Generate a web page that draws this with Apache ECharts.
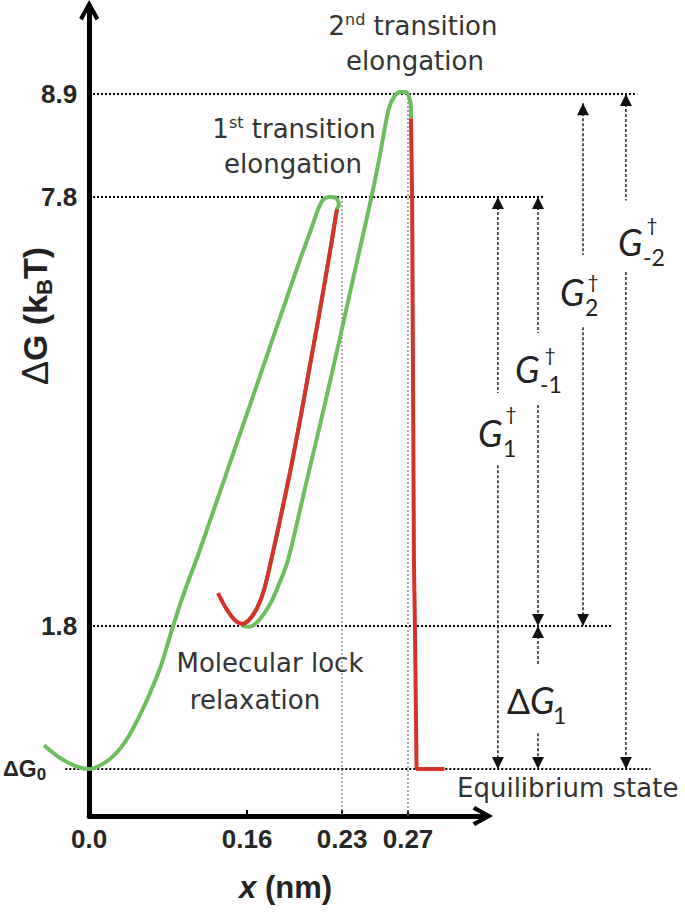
<!DOCTYPE html>
<html>
<head>
<meta charset="utf-8">
<title>Energy landscape</title>
<script src="https://cdn.jsdelivr.net/npm/echarts@6/dist/echarts.min.js"></script>
<style>
  html, body { margin: 0; padding: 0; background: #fff; }
  #chart { width: 685px; height: 913px; }
</style>
</head>
<body>
<div id="chart"></div>
<script>
// axis ticks
const xTickValues = [0, 0.16, 0.23, 0.27];
const xTickLabels = ['0.0', '0.16', '0.23', '0.27'];
const yTickValues = [0, 1.8, 7.8, 8.9];
const yTickLabels = ['ΔG0', '1.8', '7.8', '8.9'];

// green profile (x in nm, G in kBT)
const greenX = [-0.0456, -0.0294, -0.0142, 0, 0.0213, 0.0365, 0.0516, 0.0618, 0.0729, 0.0851, 0.0972,
  0.1104, 0.1377, 0.1622, 0.1806, 0.1990, 0.2078, 0.2122, 0.2160, 0.2211, 0.2255, 0.2277,
  0.2263, 0.2226, 0.2182, 0.2131, 0.2064, 0.1991, 0.1917, 0.1843, 0.1784, 0.1725, 0.1674, 0.1622,
  0.1560, 0.1615, 0.1666, 0.1725, 0.1784, 0.1843, 0.1902, 0.2035, 0.2167, 0.2293, 0.2379, 0.2445,
  0.2494, 0.2530, 0.2561, 0.2585, 0.2615, 0.2652, 0.2682, 0.2706, 0.2718, 0.2718];
const greenY = [0.30, 0.14, 0.04, 0, 0.126, 0.34, 0.68, 0.957, 1.30, 1.80, 2.30,
  2.79, 3.88, 4.89, 5.91, 6.92, 7.38, 7.62, 7.76, 7.80, 7.79, 7.69,
  7.63, 7.20, 6.71, 6.15, 5.45, 4.68, 3.95, 3.28, 2.77, 2.30, 2.05, 1.90,
  1.81, 1.79, 1.84, 1.97, 2.16, 2.42, 2.72, 3.79, 4.85, 5.90, 6.78, 7.45,
  7.93, 8.25, 8.55, 8.75, 8.87, 8.92, 8.92, 8.87, 8.75, 8.64];

// red profile, first well
const redX = [0.1306, 0.1387, 0.1478, 0.1559, 0.1622, 0.1674, 0.1725, 0.1784, 0.1843, 0.1917,
  0.1991, 0.2064, 0.2131, 0.2182, 0.2226, 0.2263];
const redY = [2.26, 2.05, 1.88, 1.83, 1.90, 2.05, 2.30, 2.77, 3.28, 3.95,
  4.68, 5.45, 6.15, 6.71, 7.20, 7.63];
// red profile, drop to equilibrium
const red2X = [0.2718, 0.2725, 0.2736, 0.2742, 0.2752, 0.2921];
const red2Y = [8.64, 7.76, 2.72, 1.80, 0, 0];

// dotted energy levels
const levelY = [8.9, 7.8, 1.8, 0];
const levelFrom = [0, 0, 0, -0.024];
const levelTo = [0.409, 0.353, 0.394, 0.417];
// thin drop lines
const dropX = [0.23, 0.27];
const dropTop = [7.8, 8.9];

// double arrows: [y1, y2, head at y1, head at y2]
const arrowX = [0.3245, 0.3488, 0.3761, 0.4021];
const arrowSegs = [
  [[7.8, 5.06, 1, 0], [4.05, 0, 0, 1]],
  [[7.8, 5.90, 1, 0], [4.89, 1.8, 0, 1], [1.8, 1.31, 1, 0], [0.45, 0, 0, 1]],
  [[8.8, 6.99, 1, 0], [5.98, 1.8, 0, 1]],
  [[8.9, 7.75, 1, 0], [6.75, 0, 0, 1]]
];

// the drawing is schematic: piecewise linear axes through the ticks
const xWarpOut = [0, 0.402, 0.6438, 0.8117];
const yWarpOut = [0.0584, 0.236, 0.7689, 0.8969];

function warp(v, ins, outs) {
  let i = 0;
  if (v >= ins[ins.length - 1]) i = ins.length - 2;
  else if (v > ins[0]) { while (v > ins[i + 1]) i++; }
  return outs[i] + (v - ins[i]) * (outs[i + 1] - outs[i]) / (ins[i + 1] - ins[i]);
}
const wx = v => warp(v, xTickValues, xWarpOut);
const wy = v => warp(v, yTickValues, yWarpOut);
const yBottom = warp(0, yWarpOut, yTickValues);

const pts = (xs, ys) => xs.map((x, i) => [wx(x), wy(ys[i])]);

// layout: visible axes grid, plus a full-page grid with the same scale for the marks
const W = 685, H = 913;
const plot = { left: 89, top: 11, width: 393, height: 805 };

const chart = echarts.init(document.getElementById('chart'), null, { renderer: 'svg' });

const series = [];
function addLine(opt) {
  series.push(Object.assign({ type: 'line', xAxisIndex: 1, yAxisIndex: 1, silent: true, symbol: 'none' }, opt));
}
levelY.forEach((y, i) => {
  addLine({ z: 1, lineStyle: { color: '#000', width: 2, type: [2, 2] },
    data: [[wx(levelFrom[i]), wy(y)], [wx(levelTo[i]), wy(y)]] });
});
dropX.forEach((x, i) => {
  addLine({ z: 1, lineStyle: { color: '#777', width: 1.2, type: [2, 2] },
    data: [[wx(x), wy(dropTop[i])], [wx(x), wy(yBottom)]] });
});

function head(x, y, up) {
  return {
    value: [wx(x), wy(y)],
    symbol: 'triangle',
    symbolSize: [12, 12],
    symbolRotate: up ? 0 : 180,
    symbolOffset: [0, up ? 6 : -6],
    itemStyle: { color: '#111' }
  };
}
arrowX.forEach((x, i) => {
  arrowSegs[i].forEach(s => {
    const up1 = s[0] > s[1];
    const p1 = s[2] ? head(x, s[0], up1) : { value: [wx(x), wy(s[0])], symbol: 'none' };
    const p2 = s[3] ? head(x, s[1], !up1) : { value: [wx(x), wy(s[1])], symbol: 'none' };
    addLine({ z: 2, showSymbol: true, lineStyle: { color: '#111', width: 1.4, type: [3, 2] }, data: [p1, p2] });
  });
});

addLine({ z: 3, smooth: 0.3, lineStyle: { color: '#6cbd5e', width: 4 }, data: pts(greenX, greenY) });
addLine({ z: 4, smooth: 0.3, lineStyle: { color: '#d7312c', width: 4 }, data: pts(redX, redY) });
addLine({ z: 4, lineStyle: { color: '#d7312c', width: 4 }, data: pts(red2X, red2Y) });

const chevron = 'path://M10 0 L20 18 L16.5 20.5 L12 12 L12 22 L8 22 L8 12 L3.5 20.5 L0 18 Z';
const tickFont = { fontFamily: 'Liberation Sans', fontWeight: 'bold', fontSize: 26, color: '#262626' };

function txt(x, y, text, extra) {
  return {
    type: 'text', x: x, y: y, silent: true,
    style: Object.assign({
      text: text, fill: '#333', fontFamily: 'DejaVu Sans', fontSize: 26,
      align: 'center', verticalAlign: 'middle', textAlign: 'center', textVerticalAlign: 'middle',
      rich: {
        sup: { fontFamily: 'DejaVu Sans', fontSize: 16, fill: '#333', color: '#333', verticalAlign: 'top', lineHeight: 30 },
        n: { fontFamily: 'DejaVu Sans', fontSize: 26, fill: '#333', color: '#333', lineHeight: 30 }
      }
    }, extra || {})
  };
}
function gLabel(x, y, sub, dx, dy, delta) {
  const els = [];
  els.push({ type: 'text', x: x, y: y, silent: true,
    style: { text: delta ? '{d|Δ}G' : 'G', fill: '#222', fontFamily: 'Lato', fontStyle: 'italic', fontSize: 36,
      align: 'left', verticalAlign: 'middle', textAlign: 'left', textVerticalAlign: 'middle',
      rich: { d: { fontFamily: 'Lato', fontSize: 34, fill: '#222', color: '#222' } } } });
  const gx = delta ? x + 21 : x;
  els.push({ type: 'text', x: gx + 25, y: y + 15, silent: true,
    style: { text: sub, fill: '#222', fontFamily: 'Lato', fontSize: 23, align: 'left', verticalAlign: 'middle', textAlign: 'left', textVerticalAlign: 'middle' } });
  if (dx != null) els.push({ type: 'text', x: gx + dx, y: y + dy, silent: true,
    style: { text: '†', fill: '#222', fontFamily: 'Lato', fontSize: 19, align: 'center', verticalAlign: 'middle', textAlign: 'center', textVerticalAlign: 'middle' } });
  return els;
}

const graphics = [
  txt(413, 26, '2{sup|nd}{n| transition}'),
  txt(415, 61, 'elongation'),
  txt(294, 129, '1{sup|st}{n| transition}'),
  txt(293, 164, 'elongation'),
  txt(270, 663, 'Molecular lock'),
  txt(255, 700, 'relaxation'),
  txt(457, 788, 'Equilibrium state', { align: 'left', textAlign: 'left' }),
  {
    type: 'text', x: 35, y: 316, rotation: Math.PI / 2, silent: true,
    style: {
      text: '{d|Δ}{g|G} {g|(k}{s|B}{g|T)}', fill: '#222',
      fontFamily: 'Liberation Sans', fontWeight: 'bold', fontSize: 34,
      align: 'center', verticalAlign: 'middle', textAlign: 'center', textVerticalAlign: 'middle',
      rich: {
        d: { fontFamily: 'Liberation Sans', fontSize: 36, fill: '#222', color: '#222', lineHeight: 40 },
        g: { fontFamily: 'Liberation Sans', fontWeight: 'bold', fontSize: 34, fill: '#222', color: '#222', lineHeight: 40 },
        s: { fontFamily: 'Liberation Sans', fontWeight: 'bold', fontSize: 22, fill: '#222', color: '#222', verticalAlign: 'bottom' }
      }
    }
  }
]
  .concat(gLabel(478, 433, '1', 33, -20))
  .concat(gLabel(515, 369, '-1', 35, -15))
  .concat(gLabel(560, 292, '2', 33, -11))
  .concat(gLabel(618, 242, '-2', 34, -18))
  .concat(gLabel(507, 700, '1', null, null, true));

chart.setOption({
  animation: false,
  backgroundColor: '#fff',
  grid: [
    { left: plot.left, top: plot.top, width: plot.width, height: plot.height },
    { left: 0, top: 0, right: 0, bottom: 0 }
  ],
  xAxis: [{
    type: 'value', min: 0, max: 1, gridIndex: 0,
    name: '{i|x} (nm)', nameLocation: 'middle', nameGap: 56,
    nameTextStyle: {
      fontFamily: 'Liberation Sans', fontWeight: 'bold', fontSize: 31, color: '#222',
      rich: { i: { fontFamily: 'Liberation Sans', fontWeight: 'bold', fontStyle: 'italic', fontSize: 31, color: '#222' } }
    },
    axisLine: { onZero: false, lineStyle: { color: '#000', width: 5 }, symbol: ['none', chevron], symbolSize: [20, 22] },
    axisTick: { show: true, inside: true, length: 6, customValues: xTickValues.map(wx), lineStyle: { color: '#000', width: 2 } },
    splitLine: { show: false },
    axisLabel: Object.assign({
      customValues: xTickValues.map(wx), margin: 10,
      formatter: v => xTickLabels[xTickValues.map(wx).findIndex(t => Math.abs(t - v) < 1e-6)]
    }, tickFont)
  }, {
    type: 'value', gridIndex: 1, show: false,
    min: -plot.left / plot.width, max: (W - plot.left) / plot.width
  }],
  yAxis: [{
    type: 'value', min: 0, max: 1, gridIndex: 0,
    axisLine: { onZero: false, lineStyle: { color: '#000', width: 5 }, symbol: ['none', chevron], symbolSize: [20, 22] },
    axisTick: { show: false },
    splitLine: { show: false },
    axisLabel: Object.assign({
      customValues: yTickValues.map(wy), margin: 12,
      formatter: v => {
        const i = yTickValues.map(wy).findIndex(t => Math.abs(t - v) < 1e-6);
        return i === 0 ? '{d|Δ}{g|G}{s|0}' : yTickLabels[i];
      },
      rich: {
        d: { fontFamily: 'Liberation Sans', fontSize: 22, color: '#262626', lineHeight: 28 },
        g: { fontFamily: 'Liberation Sans', fontWeight: 'bold', fontSize: 23, color: '#262626', lineHeight: 28 },
        s: { fontFamily: 'Liberation Sans', fontWeight: 'bold', fontSize: 17, color: '#262626', verticalAlign: 'bottom', padding: [0, 31, 0, 0] }
      }
    }, tickFont)
  }, {
    type: 'value', gridIndex: 1, show: false,
    min: -(H - plot.top - plot.height) / plot.height, max: (plot.top + plot.height) / plot.height
  }],
  graphic: graphics,
  series: series
});
</script>
</body>
</html>
